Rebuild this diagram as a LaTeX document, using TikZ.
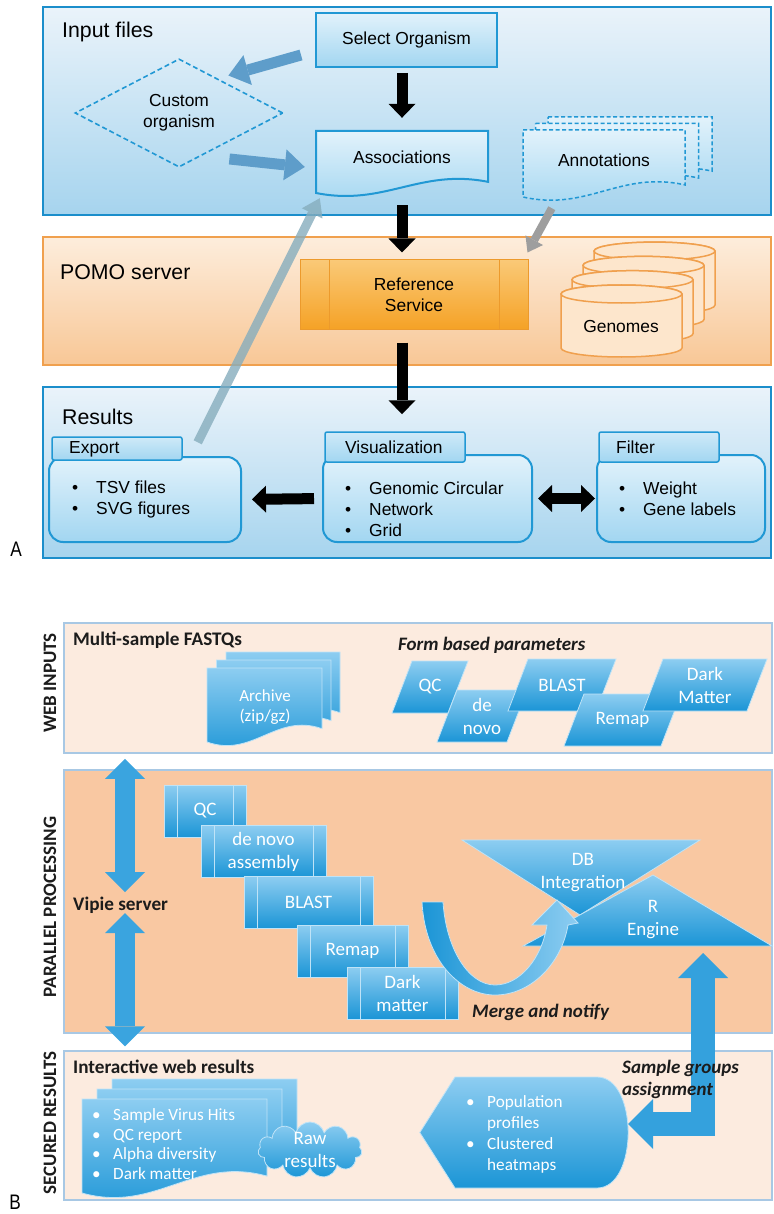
\documentclass[tikz,border=0pt]{standalone}
\usepackage{graphicx}
\usepackage{fontspec}
\setmainfont{Liberation Sans}
\newfontfamily\calibri{Carlito}
\usepackage{tikz}
\usetikzlibrary{shapes.geometric, shapes.symbols, arrows.meta, positioning, calc}
\definecolor{bandtopA}{HTML}{EAF3FA}
\definecolor{bandbotA}{HTML}{A6D4EE}
\definecolor{lineA}{HTML}{1B8ECB}
\definecolor{boxtopA}{HTML}{E2F2FB}
\definecolor{boxbotA}{HTML}{A2D6F1}
\definecolor{boxlineA}{HTML}{2198D4}
\definecolor{pomotop}{HTML}{FDEDDC}
\definecolor{pomobot}{HTML}{F8C796}
\definecolor{pomoline}{HTML}{F0A04E}
\definecolor{reftop}{HTML}{FAC977}
\definecolor{refbot}{HTML}{F5A226}
\definecolor{refline}{HTML}{EC9A2C}
\definecolor{genfill}{HTML}{FDE6CC}
\definecolor{steelarr}{HTML}{5E9DCA}
\definecolor{grayarr}{HTML}{9E9E9E}
\definecolor{exparr}{HTML}{86ADBD}
\definecolor{peach}{HTML}{FCEBDF}
\definecolor{apricot}{HTML}{F9C8A2}
\definecolor{lineB}{HTML}{A8C8E4}
\definecolor{bluetop}{HTML}{8DCDF1}
\definecolor{bluebot}{HTML}{1B95D6}
\definecolor{blueedge}{HTML}{BFE3F7}
\definecolor{vipblue}{HTML}{3AA4DF}
\definecolor{inkB}{HTML}{1C1C1C}

\newcommand{\bulA}{\makebox[24pt][l]{\textbullet}}
\newcommand{\bulB}{\makebox[21pt][l]{\textbullet}}
% document symbol: [style] left, top, right, bottom (left end)
\newcommand{\docshape}[5][]{%
  \path[#1] ({#2},{#3}) -- ({#4},{#3}) -- ({#4},{(#5)-0.18*((#5)-(#3))})
    .. controls ({(#2)+0.6*((#4)-(#2))},{(#5)-0.4*((#5)-(#3))})
    and ({(#2)+0.4*((#4)-(#2))},{(#5)+0.22*((#5)-(#3))}) .. ({#2},{#5}) -- cycle;}
% one disk of the genome stack: left, top
\newcommand{\cylshape}[2]{%
  \path[disk] ({#1},{#2+9}) -- ({#1},{#2+63})
    arc[start angle=180, end angle=0, x radius=60.5, y radius=9]
    -- ({#1+121},{#2+9}) arc[start angle=0, end angle=-180, x radius=60.5, y radius=9] -- cycle;
  \path[disk] ({#1+60.5},{#2+9}) ellipse [x radius=60.5, y radius=9];}
% form parameter: bottom-left x, top y, side, name, text
\newcommand{\paramshape}[5]{%
  \path[bluefill] ({#1},{#2+52}) -- ({#1+20},{#2}) -- ({#1+20+#3},{#2}) -- ({#1+#3},{#2+52}) -- cycle;
  \node[whitetxt] (#4) at ({#1+10+#3/2},{#2+26}) {#5};}

\begin{document}
\begin{tikzpicture}[
  x=1pt, y=-1pt,
  every node/.style={inner sep=0pt, font=\fontsize{17.4}{21}\selectfont},
  head/.style={font=\fontsize{21.3}{25}\selectfont, anchor=west},
  bandA/.style={rectangle, draw=lineA, line width=2pt, top color=bandtopA, bottom color=bandbotA},
  bandO/.style={rectangle, draw=pomoline, line width=2pt, top color=pomotop, bottom color=pomobot},
  boxA/.style={rectangle, draw=boxlineA, line width=2pt, top color=boxtopA, bottom color=boxbotA, align=center},
  docA/.style={draw=boxlineA, line width=2pt, top color=boxtopA, bottom color=boxbotA},
  tabA/.style={rectangle, rounded corners=2pt, draw=boxlineA, line width=1.5pt, top color=boxtopA!70!boxbotA, bottom color=boxbotA},
  bodyA/.style={rectangle, rounded corners=14pt, draw=boxlineA, line width=2pt, top color=boxtopA, bottom color=boxbotA},
  disk/.style={draw=pomoline, line width=1.5pt, fill=genfill},
  inlines/.style 2 args={path picture={
    \draw[#2, line width=0.8pt] ([xshift=#1]path picture bounding box.north west) -- ([xshift=#1]path picture bounding box.south west);
    \draw[#2, line width=0.8pt] ([xshift=-#1]path picture bounding box.north east) -- ([xshift=-#1]path picture bounding box.south east);}},
  blackarr/.style={draw=black, line width=11pt, -{Triangle[length=14pt, width=27pt, line width=0pt]}},
  biblack/.style={draw=black, line width=11pt, {Triangle[length=14pt, width=27pt, line width=0pt]}-{Triangle[length=14pt, width=27pt, line width=0pt]}},
  fatarr/.style={draw=steelarr, line width=11pt, -{Triangle[length=20pt, width=31pt, line width=0pt]}},
  thinarr/.style={draw=grayarr, line width=8pt, -{Triangle[length=14pt, width=20pt, line width=0pt]}},
  backarr/.style={draw=exparr, opacity=0.8, line width=9pt, -{Triangle[length=17pt, width=23pt, line width=0pt]}},
  bandB/.style={rectangle, draw=lineB, line width=1.5pt},
  bluefill/.style={draw=blueedge, line width=0.8pt, top color=bluetop, bottom color=bluebot},
  ushade/.style={draw=blueedge, line width=0.8pt, left color=bluebot, right color=bluetop},
  whitetxt/.style={text=white, align=center, font=\calibri\fontsize{19}{23}\selectfont},
  txtB/.style={text=inkB, anchor=west, font=\calibri\bfseries\fontsize{19.2}{23}\selectfont},
  emphB/.style={text=inkB, anchor=west, align=left, font=\calibri\bfseries\itshape\fontsize{19}{22}\selectfont},
  sideB/.style={text=inkB, rotate=90, font=\calibri\bfseries\fontsize{19}{22}\selectfont},
  procbox/.style={rectangle, bluefill, minimum height=52pt, whitetxt, inlines={13pt}{blueedge}},
  vipiearr/.style={draw=vipblue, line width=20pt, {Triangle[length=20pt, width=40pt, line width=0pt]}-{Triangle[length=20pt, width=40pt, line width=0pt]}},
  bentarr/.style={draw=vipblue!80!bluebot, line width=24pt, line join=miter, {Triangle[length=25pt, width=50pt, line width=0pt]}-{Triangle[length=25pt, width=50pt, line width=0pt]}}
]
\useasboundingbox (0,0) rectangle (773,1214);

% ===== A: input files
\node[bandA, minimum width=728pt, minimum height=208pt] (inband) at (407,111) {};
\node[head] (inlbl) at (62,32) {Input files};
\node[boxA, minimum width=181pt, minimum height=54pt] (sel) at (406.5,40) {Select Organism};
\docshape[docA]{316}{131}{488}{193}
\node[minimum width=172pt, minimum height=52pt] (assoc) at (402,157) {Associations};
\node[diamond, draw=boxlineA, line width=1.6pt, dash pattern=on 5pt off 3pt, minimum width=208pt, minimum height=70pt, align=center] (cust) at (179,113) {Custom\\organism};
\foreach \d in {2,1,0} {\docshape[docA, line width=1.5pt, dash pattern=on 4pt off 2.5pt]{523+12.5*\d}{130-6.5*\d}{685+13.5*\d}{197-7*\d}}
\node[minimum width=162pt, minimum height=52pt] (annot) at (604,160) {Annotations};

% ===== A: POMO server
\node[bandO, minimum width=728pt, minimum height=128pt] (pomoband) at (407,301) {};
\node[head] (pomolbl) at (60,272) {POMO server};
\node[rectangle, draw=refline, line width=1pt, top color=reftop, bottom color=refbot, inlines={29pt}{refline}, minimum width=228pt, minimum height=69pt, align=center] (ref) at (414,294.5) {Reference\\Service};
\foreach \i in {3,2,1,0} {\cylshape{561+11*\i}{285-14.3*\i}}
\node (gen) at (621,327) {Genomes};

% ===== A: results
\node[bandA, minimum width=728pt, minimum height=171pt] (resband) at (407,472.5) {};
\node[head] (reslbl) at (62,417) {Results};
\node[bodyA, minimum width=192pt, minimum height=85pt] (expbody) at (145,499.5) {};
\node[tabA, minimum width=130pt, minimum height=23pt] (exptab) at (117,448.5) {};
\node[anchor=west] (explbl) at (69,449) {Export};
\node[anchor=west, align=left] (expitems) at (72,499) {\bulA TSV files\\\bulA SVG figures};
\node[bodyA, minimum width=209pt, minimum height=87pt] (visbody) at (427.5,498.5) {};
\node[tabA, minimum width=140pt, minimum height=30pt] (vistab) at (395,447) {};
\node[anchor=west] (vislbl) at (345,447) {Visualization};
\node[anchor=west, align=left] (visitems) at (345,509) {\bulA Genomic Circular\\\bulA Network\\\bulA Grid};
\node[bodyA, minimum width=168pt, minimum height=87pt] (filtbody) at (681,498.5) {};
\node[tabA, minimum width=120pt, minimum height=30pt] (filttab) at (659,447) {};
\node[anchor=west] (filtlbl) at (616,447) {Filter};
\node[anchor=west, align=left] (filtitems) at (619,499) {\bulA Weight\\\bulA Gene labels};
\node (lblA) at (16,549) {\fontsize{21}{25}\selectfont\scalebox{0.82}[1]{A}};

% A: connectors
\draw[blackarr, shorten <=5pt, shorten >=13pt] (sel.south -| assoc) -- (assoc.north);
\draw[blackarr, shorten <=22pt, shorten >=7pt] (assoc.south) -- (assoc.south |- ref.north);
\draw[blackarr, shorten <=13pt, shorten >=17pt] (assoc.south |- ref.south) -- (assoc.south |- vistab.north);
\draw[blackarr, shorten <=8pt, shorten >=10pt] (visbody.west) -- (expbody.east);
\draw[biblack, shorten <=5pt, shorten >=1pt] (visbody.east) -- (filtbody.west);
\draw[fatarr] ($(sel.west)+(-14,15)$) -- ($(cust.north east)+(-3,-10)$);
\draw[fatarr] ($(cust.south east)+(-2,18.5)$) -- ($(assoc.west)+(-11,10)$);
\draw[thinarr] ($(annot.south west)+(29,22)$) -- ($(ref.north east)+(-1,-7)$);
\draw[backarr] ($(exptab.north east)+(15,6)$) -- ($(assoc.south west)+(4,15)$);

% ===== B: web inputs
\node[bandB, fill=peach, minimum width=708pt, minimum height=130pt] (web) at (418,688) {};
\node[sideB] (weblbl) at (50,683) {WEB INPUTS};
\node[txtB] (fastq) at (73,640) {Multi-sample FASTQs};
\foreach \d in {2,1,0} {\docshape[bluefill]{207+9.5*\d}{668-8*\d}{322+9*\d}{742-8*\d}}
\node[whitetxt, font=\calibri\fontsize{17}{20}\selectfont] (arch) at (265,707) {Archive\\(zip/gz)};
\node[emphB] (formlbl) at (398,645) {Form based parameters};
\paramshape{392}{661}{56}{pqc}{QC}
\paramshape{437}{690}{70}{pnovo}{de\\novo}
\paramshape{508}{659}{88}{pblast}{BLAST}
\paramshape{564}{694}{97}{premap}{Remap}
\paramshape{643}{659}{104}{pdark}{Dark\\Matter}

% ===== B: parallel processing
\node[bandB, fill=apricot, minimum width=708pt, minimum height=263pt] (par) at (418,901.5) {};
\node[sideB] (parlbl) at (50,907) {PARALLEL PROCESSING};
\node[procbox, minimum width=82pt] (sqc) at (205,811) {QC};
\node[procbox, minimum width=125pt] (snovo) at (263.5,851.5) {de novo\\assembly};
\node[procbox, minimum width=129pt] (sblast) at (308.5,902.5) {BLAST};
\node[procbox, minimum width=111pt] (sremap) at (352.5,951) {Remap};
\node[procbox, minimum width=111pt] (sdark) at (402.5,993) {Dark\\matter};
\path[bluefill] (462,840) -- (700,840) -- (580,915) -- cycle;
\node[whitetxt] (dbint) at (583,873) {DB\\Integration};
\path[bluefill] (653,875) -- (772,946) -- (523,946) -- cycle;
\node[whitetxt] (reng) at (653,920) {R\\Engine};
% merge arrow (dark matter round to DB)
\path[ushade] (422,902) .. controls (425,960) and (460,995) .. (495,995)
  .. controls (532,995) and (562,962) .. (568,925) -- (578,923) -- (557,900) -- (532,925)
  -- (547,925) .. controls (542,958) and (520,985) .. (495,985)
  .. controls (468,985) and (446,948) .. (443,902) -- cycle;
\node[emphB] (merge) at (472,1012) {Merge and notify};

% ===== B: secured results
\node[bandB, fill=peach, minimum width=708pt, minimum height=149pt] (sec) at (418,1125.5) {};
\node[sideB] (seclbl) at (50,1123) {SECURED RESULTS};
\node[txtB] (weblbl2) at (73,1067) {Interactive web results};
\foreach \d in {2,1,0} {\docshape[bluefill]{82+15*\d}{1099-10*\d}{267+15*\d}{1193-10*\d}}
\node[whitetxt, anchor=west, align=left, font=\calibri\fontsize{17.2}{19.6}\selectfont] (hits) at (92,1144) {\bulB Sample Virus Hits\\\bulB QC report\\\bulB Alpha diversity\\\bulB Dark matter};
\node[cloud, cloud puffs=11, aspect=2.2, bluefill, minimum width=104pt, minimum height=56pt] (raw) at (310,1150) {};
\node[whitetxt] (rawtxt) at (raw) {Raw\\results};
\node[minimum width=208pt, minimum height=111pt] (pop) at (524,1132.5) {};
\path[bluefill] (pop.west) -- (455,1077) -- (597,1077) .. controls (618,1077) and (628,1105) .. (pop.east)
  .. controls (628,1160) and (618,1188) .. (597,1188) -- (455,1188) -- cycle;
\node[whitetxt, anchor=west, align=left, font=\calibri\fontsize{17.2}{21}\selectfont] (poptxt) at (466,1134) {\bulB Population\\\hphantom{\bulB}profiles\\\bulB Clustered\\\hphantom{\bulB}heatmaps};
\node (lblB) at (15,1202) {\fontsize{21}{25}\selectfont\scalebox{0.82}[1]{B}};

% B: connectors
\node[txtB] (vipie) at (73,905) {Vipie server};
\draw[vipiearr] ($(vipie.west)+(52,-13)$) -- ($(vipie.west |- web.south)+(52,5)$);
\draw[vipiearr] ($(vipie.west)+(52,8)$) -- ($(vipie.west |- sec.north)+(52,-4)$);
\coordinate (rfoot) at (703,946);
\draw[bentarr, shorten <=7pt] (rfoot) |- ($(pop.east)+(0,-8.5)$);
\node[emphB] (grp) at (622,1079) {Sample groups\\assignment};
\end{tikzpicture}
\end{document}
